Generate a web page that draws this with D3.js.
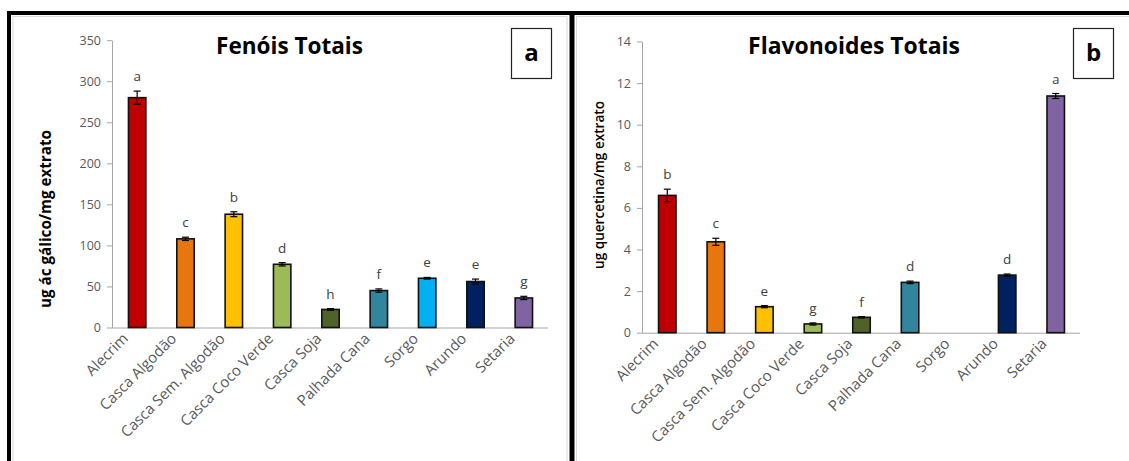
<!DOCTYPE html>
<html>
<head>
<meta charset="utf-8">
<script src="https://cdn.jsdelivr.net/npm/d3@7"></script>
<style>
  body { margin: 0; background: #fff; }
  svg text { font-family: "Open Sans", sans-serif; }
  .tick text { fill: #595959; font-size: 12.5px; }
  .axis-g path, .axis-g line { stroke: #A6A6A6; }
</style>
</head>
<body>
<div id="graph"></div>
<script>
// categories and values
const categories = ["Alecrim", "Casca Algodão", "Casca Sem. Algodão", "Casca Coco Verde",
                    "Casca Soja", "Palhada Cana", "Sorgo", "Arundo", "Setaria"]
const barColors = ["#C00000", "#E8760F", "#FFC000", "#9BBB59", "#4F6228",
                   "#31859C", "#00B0F0", "#002060", "#8064A2"]

const fenois = [280, 108, 138, 77, 22, 45, 60, 56, 36]
const fenoisErr = [8, 2, 3, 2, 1, 2, 1, 3, 2]
const fenoisLetters = ["a", "c", "b", "d", "h", "f", "e", "e", "g"]
const fenoisTicks = [0, 50, 100, 150, 200, 250, 300, 350]

const flavon = [6.6, 4.37, 1.25, 0.42, 0.74, 2.42, 0, 2.77, 11.38]
const flavonErr = [0.3, 0.17, 0.05, 0.05, 0.03, 0.06, 0, 0.05, 0.12]
const flavonLetters = ["b", "c", "e", "g", "f", "d", "", "d", "a"]
const flavonTicks = [0, 2, 4, 6, 8, 10, 12, 14]

const width = 1129
const height = 461

const svg = d3.select("#graph")
              .append("svg")
              .attr("width", width)
              .attr("height", height)

// scale a text so its width matches the picture
function fitText(sel, target) {
    const w = sel.node().getComputedTextLength()
    const fs = parseFloat(sel.style("font-size"))
    sel.style("font-size", (fs * target / w) + "px")
}

// light panel borders
svg.append("rect").attr("x", 13).attr("y", 16.5).attr("width", 554).attr("height", 460)
   .attr("fill", "none").attr("stroke", "#D9D9D9")
svg.append("rect").attr("x", 576.5).attr("y", 16.5).attr("width", 560).attr("height", 460)
   .attr("fill", "none").attr("stroke", "#D9D9D9")

/**
 * Draw one bar panel
 */
function drawPanel(p) {
    const g = svg.append("g")

    const xScale = d3.scaleBand()
                     .domain(categories)
                     .range([p.x0 + 1, p.x1])
                     .paddingInner(0.64)
                     .paddingOuter(0.32)
    const yScale = d3.scaleLinear()
                     .domain([0, p.max])
                     .range([p.y0, p.yTop])

    // y axis
    g.append("g")
     .attr("class", "axis-g")
     .attr("transform", `translate(${p.x0},0)`)
     .call(d3.axisLeft(yScale).tickValues(p.ticks).tickSize(5).tickSizeOuter(0).tickPadding(6))

    // x axis line
    g.append("line")
     .attr("x1", p.x0).attr("x2", p.x1)
     .attr("y1", p.y0 + 0.5).attr("y2", p.y0 + 0.5)
     .attr("stroke", "#A6A6A6")

    const rows = categories.map((c, i) => ({ c, v: p.values[i], e: p.err[i], l: p.letters[i], col: barColors[i] }))
                           .filter(d => d.v > 0)

    // bars
    g.selectAll(".bar")
     .data(rows)
     .enter()
     .append("rect")
     .attr("x", d => xScale(d.c))
     .attr("y", d => yScale(d.v))
     .attr("width", xScale.bandwidth())
     .attr("height", d => p.y0 - yScale(d.v))
     .attr("fill", d => d.col)
     .attr("stroke", "#111")
     .attr("stroke-width", 1.6)

    // error bars
    const cx = d => xScale(d.c) + xScale.bandwidth() / 2
    const eb = g.selectAll(".err").data(rows.filter(d => d.e > 0)).enter().append("g")
    eb.append("line")
      .attr("x1", cx).attr("x2", cx)
      .attr("y1", d => yScale(d.v + d.e)).attr("y2", d => yScale(d.v - d.e))
      .attr("stroke", "#000").attr("stroke-width", 1.2)
    eb.append("line")
      .attr("x1", d => cx(d) - 3.5).attr("x2", d => cx(d) + 3.5)
      .attr("y1", d => yScale(d.v + d.e)).attr("y2", d => yScale(d.v + d.e))
      .attr("stroke", "#000").attr("stroke-width", 1.2)
    eb.append("line")
      .attr("x1", d => cx(d) - 3.5).attr("x2", d => cx(d) + 3.5)
      .attr("y1", d => yScale(d.v - d.e)).attr("y2", d => yScale(d.v - d.e))
      .attr("stroke", "#000").attr("stroke-width", 1.2)

    // significance letters
    g.selectAll(".letter")
     .data(rows)
     .enter()
     .append("text")
     .attr("x", cx)
     .attr("y", d => yScale(d.v + d.e) - 10)
     .attr("text-anchor", "middle")
     .style("font-size", "13.5px")
     .attr("fill", "#404040")
     .text(d => d.l)

    // category labels
    g.selectAll(".cat")
     .data(categories)
     .enter()
     .append("text")
     .attr("transform", d => `translate(${xScale(d) + xScale.bandwidth() / 2 - 8},${p.y0 + 12}) rotate(-45)`)
     .attr("text-anchor", "end")
     .style("font-size", "15px")
     .attr("fill", "#595959")
     .text(d => d)

    // title
    const t = g.append("text")
               .attr("x", p.titleX)
               .attr("y", 54)
               .attr("text-anchor", "middle")
               .style("font-size", "20px")
               .style("font-weight", "bold")
               .attr("fill", "#000")
               .text(p.title)
    fitText(t, p.titleW)

    // y axis label
    const yl = g.append("text")
                .attr("transform", `translate(${p.ylX},${p.ylY}) rotate(-90)`)
                .attr("text-anchor", "middle")
                .style("font-size", "12px")
                .style("font-weight", p.ylWeight)
                .attr("fill", "#000")
                .text(p.yLabel)
    fitText(yl, p.ylW)

    // panel letter box
    g.append("rect")
     .attr("x", p.boxX).attr("y", 28.5)
     .attr("width", 40).attr("height", 50)
     .attr("fill", "#fff").attr("stroke", "#222").attr("stroke-width", 1.2)
    g.append("text")
     .attr("x", p.boxX + 20).attr("y", 61)
     .attr("text-anchor", "middle")
     .style("font-size", "24px")
     .style("font-weight", "bold")
     .text(p.tag)
}

drawPanel({
    x0: 112, x1: 548, y0: 327.5, yTop: 40.2, max: 350,
    values: fenois, err: fenoisErr, letters: fenoisLetters, ticks: fenoisTicks,
    title: "Fenóis Totais", titleX: 289.5, titleW: 147,
    yLabel: "ug ác gálico/mg extrato", ylX: 51, ylY: 219, ylW: 178, ylWeight: "bold",
    boxX: 511.5, tag: "a"
})

drawPanel({
    x0: 642, x1: 1080, y0: 332.7, yTop: 41.5, max: 14,
    values: flavon, err: flavonErr, letters: flavonLetters, ticks: flavonTicks,
    title: "Flavonoides Totais", titleX: 854, titleW: 212,
    yLabel: "ug quercetina/mg extrato", ylX: 604, ylY: 185, ylW: 168, ylWeight: "600",
    boxX: 1073.5, tag: "b"
})

// thick black frame
svg.append("line").attr("x1", 7).attr("x2", width).attr("y1", 13).attr("y2", 13)
   .attr("stroke", "#000").attr("stroke-width", 4)
svg.append("line").attr("x1", 9).attr("x2", 9).attr("y1", 11).attr("y2", height)
   .attr("stroke", "#000").attr("stroke-width", 4)
svg.append("line").attr("x1", 572).attr("x2", 572).attr("y1", 11).attr("y2", height)
   .attr("stroke", "#000").attr("stroke-width", 5)
</script>
</body>
</html>
